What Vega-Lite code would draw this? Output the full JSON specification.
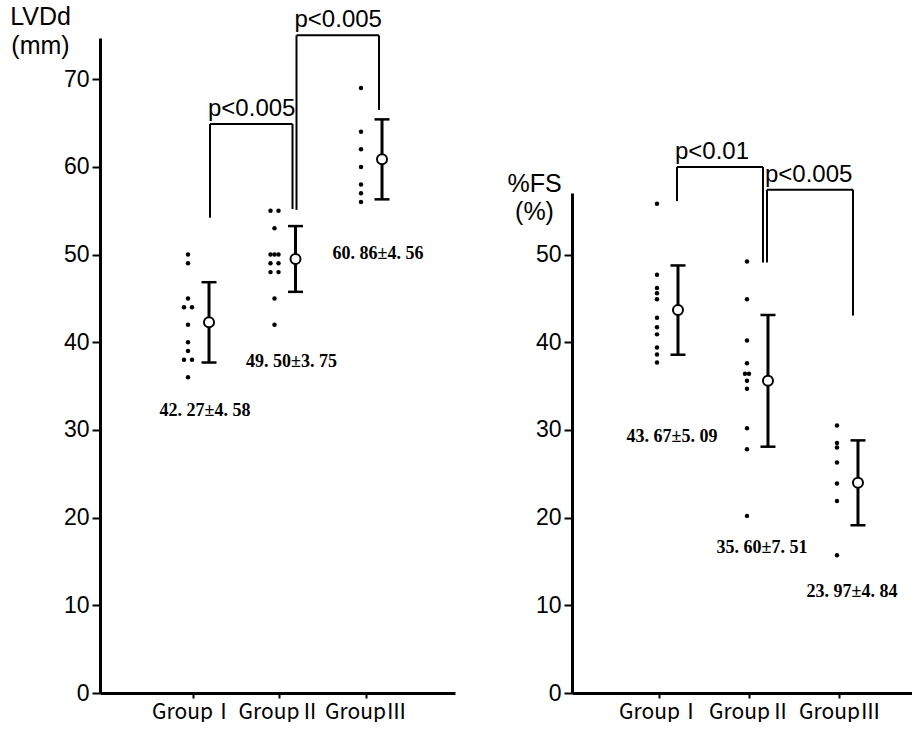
{
  "$schema": "https://vega.github.io/schema/vega-lite/v6.json",
  "background": "white",
  "padding": {"left": 9, "top": 4, "right": 0, "bottom": 0},
  "spacing": 117,
  "bounds": "flush",
  "datasets": {
    "ldots": [
      {"group": "GroupⅠ", "value": 50, "col": "c"},
      {"group": "GroupⅠ", "value": 49, "col": "c"},
      {"group": "GroupⅠ", "value": 45, "col": "c"},
      {"group": "GroupⅠ", "value": 44, "col": "l"},
      {"group": "GroupⅠ", "value": 44, "col": "r"},
      {"group": "GroupⅠ", "value": 42, "col": "c"},
      {"group": "GroupⅠ", "value": 40, "col": "c"},
      {"group": "GroupⅠ", "value": 39, "col": "c"},
      {"group": "GroupⅠ", "value": 38, "col": "l"},
      {"group": "GroupⅠ", "value": 38, "col": "r"},
      {"group": "GroupⅠ", "value": 36, "col": "c"},
      {"group": "GroupⅡ", "value": 55, "col": "l"},
      {"group": "GroupⅡ", "value": 55, "col": "r"},
      {"group": "GroupⅡ", "value": 53, "col": "c"},
      {"group": "GroupⅡ", "value": 50, "col": "l"},
      {"group": "GroupⅡ", "value": 50, "col": "c"},
      {"group": "GroupⅡ", "value": 50, "col": "r"},
      {"group": "GroupⅡ", "value": 49, "col": "l"},
      {"group": "GroupⅡ", "value": 49, "col": "r"},
      {"group": "GroupⅡ", "value": 48, "col": "l"},
      {"group": "GroupⅡ", "value": 48, "col": "r"},
      {"group": "GroupⅡ", "value": 45, "col": "c"},
      {"group": "GroupⅡ", "value": 42, "col": "c"},
      {"group": "GroupⅢ", "value": 69, "col": "c"},
      {"group": "GroupⅢ", "value": 64, "col": "c"},
      {"group": "GroupⅢ", "value": 62, "col": "c"},
      {"group": "GroupⅢ", "value": 60, "col": "c"},
      {"group": "GroupⅢ", "value": 58, "col": "c"},
      {"group": "GroupⅢ", "value": 57, "col": "c"},
      {"group": "GroupⅢ", "value": 56, "col": "c"}
    ],
    "lsum": [
      {"group": "GroupⅠ", "mean": 42.27, "lo": 37.69, "hi": 46.85, "ly": 32.2, "label": "42. 27±4. 58"},
      {"group": "GroupⅡ", "mean": 49.5, "lo": 45.75, "hi": 53.25, "ly": 37.7, "label": "49. 50±3. 75"},
      {"group": "GroupⅢ", "mean": 60.86, "lo": 56.3, "hi": 65.42, "ly": 50.05, "label": "60. 86±4. 56"}
    ],
    "lbr": [
      {"g1": "GroupⅠ", "g2": "GroupⅡ", "b1": 54.2, "b2": 55.2, "top": 64.9, "label": "p<0.005"},
      {"g1": "GroupⅡ", "g2": "GroupⅢ", "b1": 55.1, "b2": 66.5, "top": 75.0, "label": "p<0.005"}
    ],
    "rdots": [
      {"group": "GroupⅠ", "value": 55.8, "col": "c"},
      {"group": "GroupⅠ", "value": 47.7, "col": "c"},
      {"group": "GroupⅠ", "value": 46.2, "col": "c"},
      {"group": "GroupⅠ", "value": 45.6, "col": "c"},
      {"group": "GroupⅠ", "value": 44.9, "col": "c"},
      {"group": "GroupⅠ", "value": 42.8, "col": "c"},
      {"group": "GroupⅠ", "value": 41.7, "col": "c"},
      {"group": "GroupⅠ", "value": 40.9, "col": "c"},
      {"group": "GroupⅠ", "value": 39.4, "col": "c"},
      {"group": "GroupⅠ", "value": 38.6, "col": "c"},
      {"group": "GroupⅠ", "value": 37.7, "col": "c"},
      {"group": "GroupⅡ", "value": 49.2, "col": "c"},
      {"group": "GroupⅡ", "value": 44.9, "col": "c"},
      {"group": "GroupⅡ", "value": 40.2, "col": "c"},
      {"group": "GroupⅡ", "value": 37.6, "col": "c"},
      {"group": "GroupⅡ", "value": 36.4, "col": "l"},
      {"group": "GroupⅡ", "value": 36.4, "col": "r"},
      {"group": "GroupⅡ", "value": 35.6, "col": "c"},
      {"group": "GroupⅡ", "value": 34.7, "col": "c"},
      {"group": "GroupⅡ", "value": 30.2, "col": "c"},
      {"group": "GroupⅡ", "value": 27.8, "col": "c"},
      {"group": "GroupⅡ", "value": 20.2, "col": "c"},
      {"group": "GroupⅢ", "value": 30.5, "col": "c"},
      {"group": "GroupⅢ", "value": 28.5, "col": "c"},
      {"group": "GroupⅢ", "value": 28.0, "col": "c"},
      {"group": "GroupⅢ", "value": 26.3, "col": "c"},
      {"group": "GroupⅢ", "value": 23.9, "col": "c"},
      {"group": "GroupⅢ", "value": 21.9, "col": "c"},
      {"group": "GroupⅢ", "value": 15.7, "col": "c"}
    ],
    "rsum": [
      {"group": "GroupⅠ", "mean": 43.67, "lo": 38.58, "hi": 48.76, "ly": 29.2, "label": "43. 67±5. 09"},
      {"group": "GroupⅡ", "mean": 35.6, "lo": 28.09, "hi": 43.11, "ly": 16.5, "label": "35. 60±7. 51"},
      {"group": "GroupⅢ", "mean": 23.97, "lo": 19.13, "hi": 28.81, "ly": 11.5, "label": "23. 97±4. 84"}
    ],
    "rbr": [
      {"g1": "GroupⅠ", "g2": "GroupⅡ", "b1": 56.1, "b2": 49.1, "top": 60.0, "label": "p<0.01"},
      {"g1": "GroupⅡ", "g2": "GroupⅢ", "b1": 49.1, "b2": 43.05, "top": 57.4, "label": "p<0.005"}
    ]
  },
  "hconcat": [
    {
      "width": 355,
      "height": 655,
      "layer": [
        {
          "data": {"name": "ldots"},
          "transform": [{"filter": "datum.col == 'c'"}],
          "mark": {"type": "point", "filled": true, "color": "black", "opacity": 1, "size": 20, "xOffset": -5},
          "encoding": {
            "x": {"field": "group", "type": "nominal", "scale": {"type": "band", "domain": ["GroupⅠ", "GroupⅡ", "GroupⅢ"], "paddingInner": 0, "paddingOuter": 0.552, "align": 0.521}, "axis": {"title": null}},
            "y": {"field": "value", "type": "quantitative", "scale": {"domain": [0, 74.7], "nice": false, "zero": true},
              "axis": {"values": [0, 10, 20, 30, 40, 50, 60, 70], "title": ["LVDd", "(mm)"], "titleX": -60, "titleY": -14, "titleLineHeight": 29}}
          }
        },
        {
          "data": {"name": "ldots"},
          "transform": [{"filter": "datum.col == 'l'"}],
          "mark": {"type": "point", "filled": true, "color": "black", "opacity": 1, "size": 20, "xOffset": -9},
          "encoding": {"x": {"field": "group", "type": "nominal"}, "y": {"field": "value", "type": "quantitative"}}
        },
        {
          "data": {"name": "ldots"},
          "transform": [{"filter": "datum.col == 'r'"}],
          "mark": {"type": "point", "filled": true, "color": "black", "opacity": 1, "size": 20, "xOffset": -1},
          "encoding": {"x": {"field": "group", "type": "nominal"}, "y": {"field": "value", "type": "quantitative"}}
        },
        {
          "data": {"name": "lsum"},
          "mark": {"type": "rule", "color": "black", "strokeWidth": 3, "xOffset": 16},
          "encoding": {"x": {"field": "group", "type": "nominal"}, "y": {"field": "lo", "type": "quantitative"}, "y2": {"field": "hi"}}
        },
        {
          "data": {"name": "lsum"},
          "mark": {"type": "tick", "color": "black", "thickness": 2.5, "size": 15, "opacity": 1, "xOffset": 16},
          "encoding": {"x": {"field": "group", "type": "nominal"}, "y": {"field": "lo", "type": "quantitative"}}
        },
        {
          "data": {"name": "lsum"},
          "mark": {"type": "tick", "color": "black", "thickness": 2.5, "size": 15, "opacity": 1, "xOffset": 16},
          "encoding": {"x": {"field": "group", "type": "nominal"}, "y": {"field": "hi", "type": "quantitative"}}
        },
        {
          "data": {"name": "lsum"},
          "mark": {"type": "point", "filled": true, "fill": "white", "stroke": "black", "strokeWidth": 2, "size": 100, "opacity": 1, "xOffset": 16},
          "encoding": {"x": {"field": "group", "type": "nominal"}, "y": {"field": "mean", "type": "quantitative"}}
        },
        {
          "data": {"name": "lsum"},
          "mark": {"type": "text", "font": "Liberation Serif", "fontWeight": "bold", "fontSize": 18, "color": "black", "baseline": "middle", "align": "center", "xOffset": 12},
          "encoding": {"x": {"field": "group", "type": "nominal"}, "y": {"field": "ly", "type": "quantitative"}, "text": {"field": "label"}}
        },
        {
          "data": {"name": "lbr"},
          "mark": {"type": "rule", "color": "black", "strokeWidth": 2, "xOffset": 17},
          "encoding": {"x": {"field": "g1", "type": "nominal"}, "y": {"field": "b1", "type": "quantitative"}, "y2": {"field": "top"}}
        },
        {
          "data": {"name": "lbr"},
          "mark": {"type": "rule", "color": "black", "strokeWidth": 2, "xOffset": 13},
          "encoding": {"x": {"field": "g2", "type": "nominal"}, "y": {"field": "b2", "type": "quantitative"}, "y2": {"field": "top"}}
        },
        {
          "data": {"name": "lbr"},
          "mark": {"type": "rule", "color": "black", "strokeWidth": 2, "xOffset": 17, "x2Offset": 13},
          "encoding": {"x": {"field": "g1", "type": "nominal", "bandPosition": 0.5}, "x2": {"field": "g2", "bandPosition": 0.5}, "y": {"field": "top", "type": "quantitative"}}
        },
        {
          "data": {"name": "lbr"},
          "mark": {"type": "text", "font": "Liberation Sans", "fontSize": 24, "color": "black", "align": "left", "baseline": "alphabetic", "xOffset": 15, "dy": -8},
          "encoding": {"x": {"field": "g1", "type": "nominal"}, "y": {"field": "top", "type": "quantitative"}, "text": {"field": "label"}}
        }
      ]
    },
    {
      "width": 340,
      "height": 655,
      "layer": [
        {
          "data": {"name": "rdots"},
          "transform": [{"filter": "datum.col == 'c'"}],
          "mark": {"type": "point", "filled": true, "color": "black", "opacity": 1, "size": 20, "xOffset": -3},
          "encoding": {
            "x": {"field": "group", "type": "nominal", "scale": {"type": "band", "domain": ["GroupⅠ", "GroupⅡ", "GroupⅢ"], "paddingInner": 0, "paddingOuter": 0.389, "align": 0.614}, "axis": {"title": null}},
            "y": {"field": "value", "type": "quantitative", "scale": {"domain": [0, 74.7], "nice": false, "zero": true},
              "axis": {"values": [0, 10, 20, 30, 40, 50], "domainDash": [500, 1000], "title": ["%FS", "(%)"], "titleX": -38, "titleY": 153, "titleLineHeight": 28}}
          }
        },
        {
          "data": {"name": "rdots"},
          "transform": [{"filter": "datum.col == 'l'"}],
          "mark": {"type": "point", "filled": true, "color": "black", "opacity": 1, "size": 20, "xOffset": -5},
          "encoding": {"x": {"field": "group", "type": "nominal"}, "y": {"field": "value", "type": "quantitative"}}
        },
        {
          "data": {"name": "rdots"},
          "transform": [{"filter": "datum.col == 'r'"}],
          "mark": {"type": "point", "filled": true, "color": "black", "opacity": 1, "size": 20, "xOffset": -1},
          "encoding": {"x": {"field": "group", "type": "nominal"}, "y": {"field": "value", "type": "quantitative"}}
        },
        {
          "data": {"name": "rsum"},
          "mark": {"type": "rule", "color": "black", "strokeWidth": 3, "xOffset": 18},
          "encoding": {"x": {"field": "group", "type": "nominal"}, "y": {"field": "lo", "type": "quantitative"}, "y2": {"field": "hi"}}
        },
        {
          "data": {"name": "rsum"},
          "mark": {"type": "tick", "color": "black", "thickness": 2.5, "size": 15, "opacity": 1, "xOffset": 18},
          "encoding": {"x": {"field": "group", "type": "nominal"}, "y": {"field": "lo", "type": "quantitative"}}
        },
        {
          "data": {"name": "rsum"},
          "mark": {"type": "tick", "color": "black", "thickness": 2.5, "size": 15, "opacity": 1, "xOffset": 18},
          "encoding": {"x": {"field": "group", "type": "nominal"}, "y": {"field": "hi", "type": "quantitative"}}
        },
        {
          "data": {"name": "rsum"},
          "mark": {"type": "point", "filled": true, "fill": "white", "stroke": "black", "strokeWidth": 2, "size": 100, "opacity": 1, "xOffset": 18},
          "encoding": {"x": {"field": "group", "type": "nominal"}, "y": {"field": "mean", "type": "quantitative"}}
        },
        {
          "data": {"name": "rsum"},
          "mark": {"type": "text", "font": "Liberation Serif", "fontWeight": "bold", "fontSize": 18, "color": "black", "baseline": "middle", "align": "center", "xOffset": 12},
          "encoding": {"x": {"field": "group", "type": "nominal"}, "y": {"field": "ly", "type": "quantitative"}, "text": {"field": "label"}}
        },
        {
          "data": {"name": "rbr"},
          "mark": {"type": "rule", "color": "black", "strokeWidth": 2, "xOffset": 17},
          "encoding": {"x": {"field": "g1", "type": "nominal"}, "y": {"field": "b1", "type": "quantitative"}, "y2": {"field": "top"}}
        },
        {
          "data": {"name": "rbr"},
          "mark": {"type": "rule", "color": "black", "strokeWidth": 2, "xOffset": 13},
          "encoding": {"x": {"field": "g2", "type": "nominal"}, "y": {"field": "b2", "type": "quantitative"}, "y2": {"field": "top"}}
        },
        {
          "data": {"name": "rbr"},
          "mark": {"type": "rule", "color": "black", "strokeWidth": 2, "xOffset": 17, "x2Offset": 13},
          "encoding": {"x": {"field": "g1", "type": "nominal", "bandPosition": 0.5}, "x2": {"field": "g2", "bandPosition": 0.5}, "y": {"field": "top", "type": "quantitative"}}
        },
        {
          "data": {"name": "rbr"},
          "mark": {"type": "text", "font": "Liberation Sans", "fontSize": 24, "color": "black", "align": "left", "baseline": "alphabetic", "xOffset": 15, "dy": -8},
          "encoding": {"x": {"field": "g1", "type": "nominal"}, "y": {"field": "top", "type": "quantitative"}, "text": {"field": "label"}}
        }
      ]
    }
  ],
  "config": {
    "view": {"stroke": null},
    "font": "Liberation Sans",
    "axis": {
      "grid": false,
      "domainColor": "black",
      "domainWidth": 3,
      "tickColor": "black",
      "tickWidth": 2,
      "tickSize": 8,
      "labelColor": "black",
      "labelFont": "Liberation Sans",
      "labelFontSize": 23,
      "labelPadding": 3,
      "titleColor": "black",
      "titleFont": "Liberation Sans"
    },
    "axisY": {
      "titleFontSize": 25,
      "titleFontWeight": "normal",
      "titleAngle": 0,
      "titleAlign": "center",
      "titleBaseline": "alphabetic"
    },
    "axisX": {
      "labelFont": "Noto Sans CJK JP",
      "labelFontSize": 21,
      "labelAngle": 0,
      "labelPadding": 3,
      "labelLimit": 0,
      "tickSize": 5
    }
  }
}
